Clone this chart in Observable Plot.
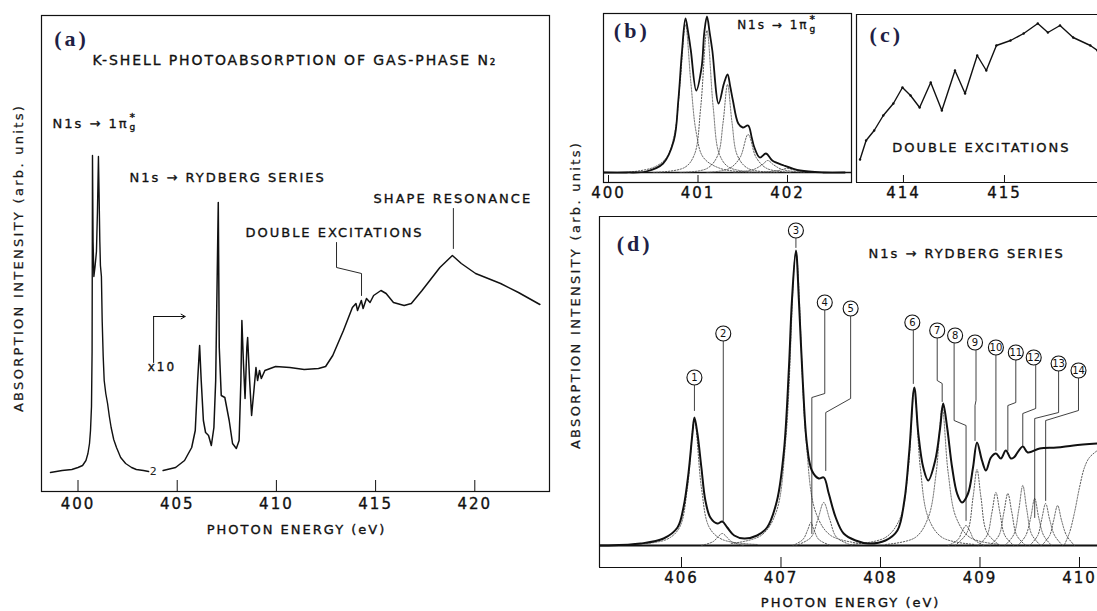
<!DOCTYPE html>
<html><head><meta charset="utf-8">
<script src="https://cdn.jsdelivr.net/npm/d3@7"></script>
<script src="https://cdn.jsdelivr.net/npm/@observablehq/plot@0.6"></script>
<style>
html,body{margin:0;padding:0;background:#fff;overflow:hidden;}
#fig{position:relative;width:1097px;height:611px;overflow:hidden;background:#fff;}
.panel{position:absolute;left:0;top:0;}
.panel svg{max-width:none !important;}
.ylab{position:absolute;font-family:"DejaVu Sans";font-size:13px;letter-spacing:2.3px;white-space:nowrap;transform:translate(-50%,-50%) rotate(-90deg);color:#1a1a1a;-webkit-text-stroke:0.25px #1a1a1a;}
#fig svg text{letter-spacing:2px;}
#fig g[font-family*="Serif"] text{letter-spacing:3px;}
#fig g[font-size^="14"] text{letter-spacing:1.9px;}
#fig g[font-size^="15"] text{letter-spacing:2px;}
#fig g[font-size^="10"] text{letter-spacing:0;}
#fig g[font-size^="9"] text{letter-spacing:0;}
</style></head><body><div id="fig"></div>
<script>
// ---------------- DATA (energy eV, intensity arb. units) ----------------
// Panel (a): overview spectrum
const aTicks = [400, 405, 410, 415, 420];
const aPiStar = [[398.61,19],[399.2,21],[399.69,22],[400.0,24],[400.23,26],[400.4,31],[400.50,38],[400.58,48],[400.63,61],[400.68,85],[400.71,140],[400.73,336],[400.76,250],[400.80,215],[400.86,225],[400.93,240],[400.98,280],[401.03,335],[401.06,300],[401.10,250],[401.13,226],[401.18,215],[401.22,170],[401.27,135],[401.32,111],[401.40,98],[401.49,88],[401.58,75],[401.67,64],[401.80,52],[401.94,44],[402.15,34],[402.40,28],[402.70,24],[402.94,22],[403.3,21],[403.56,20]];
const aRydbergX10 = [[404.29,21],[404.92,24],[405.37,31],[405.73,44],[405.91,61],[406.03,111],[406.13,146],[406.21,111],[406.32,71],[406.43,59],[406.58,56],[406.72,46],[406.85,64],[406.94,111],[407.07,289],[407.12,144],[407.22,96],[407.40,94],[407.62,71],[407.79,48],[407.98,43],[408.12,51],[408.21,111],[408.26,171],[408.34,128],[408.42,93],[408.51,144],[408.55,154],[408.65,111],[408.75,76],[408.88,104],[408.97,124],[409.05,111],[409.15,121],[409.24,113],[409.42,121],[409.96,125],[410.68,124],[411.40,122],[412.12,123],[412.48,125],[412.84,136],[413.38,161],[413.83,184],[414.01,188],[414.09,181],[414.28,191],[414.37,183],[414.54,193],[414.72,189],[414.90,196],[415.27,201],[415.53,198],[415.90,189],[416.44,186],[416.80,188],[417.34,201],[418.24,224],[418.87,236],[419.32,228],[420.04,218],[421.30,208],[422.20,199],[423.28,187]];

// Panel (b): N1s -> 1pi_g* vibrational structure
const bTicks = [400, 401, 402];
const bTotal = [[399.95,10],[400.2,10],[400.42,11],[400.61,19],[400.73,42],[400.78,82],[400.82,130],[400.86,164],[400.89,150],[400.92,132],[400.98,92],[401.04,115],[401.07,150],[401.10,166],[401.13,150],[401.16,132],[401.23,79],[401.29,99],[401.33,108],[401.36,96],[401.39,82],[401.45,59],[401.50,55],[401.56,57],[401.60,45],[401.63,35],[401.69,25],[401.76,29],[401.83,22],[401.96,17],[402.14,12],[402.4,10],[402.64,10]];
const bComp1 = [[400.2,10],[400.5,15],[400.65,25],[400.74,50],[400.80,100],[400.86,158],[400.92,100],[400.98,50],[401.06,25],[401.25,14],[401.6,10]];
const bComp2 = [[400.5,10],[400.85,15],[400.96,28],[401.03,75],[401.10,152],[401.17,75],[401.24,28],[401.35,15],[401.7,10]];
const bComp3 = [[400.8,10],[401.1,14],[401.22,27],[401.28,60],[401.33,98],[401.38,60],[401.44,27],[401.56,14],[401.9,10]];
const bComp4 = [[401.1,10],[401.35,14],[401.47,25],[401.56,48],[401.65,25],[401.77,14],[402.05,10]];
const bComp5 = [[401.4,10],[401.62,13],[401.72,18],[401.78,22],[401.84,18],[401.94,13],[402.2,10]];
const bComp6 = [[401.7,10],[401.9,12],[402.0,14],[402.1,12],[402.3,10]];

// Panel (c): double excitations
const cTicks = [414, 415];
const cTotal = [[413.57,23],[413.63,42],[413.71,52],[413.80,67],[413.90,79],[413.99,95],[414.07,87],[414.16,75],[414.27,100],[414.38,72],[414.51,112],[414.61,89],[414.73,127],[414.82,112],[414.92,137],[415.06,142],[415.19,149],[415.33,159],[415.43,150],[415.55,157],[415.68,145],[415.85,137],[415.92,132]];

// Panel (d): Rydberg series
const dTicks = [406, 407, 408, 409, 410];
const dTotal = [[405.18,22],[405.25,22],[405.59,24],[405.82,29],[405.96,40],[406.02,60],[406.07,94],[406.11,134],[406.13,150],[406.16,134],[406.20,100],[406.24,67],[406.29,50],[406.36,44],[406.41,46],[406.46,40],[406.53,32],[406.63,29],[406.76,32],[406.86,40],[406.96,67],[407.03,117],[407.08,200],[407.11,267],[407.15,317],[407.18,267],[407.22,184],[407.26,124],[407.31,97],[407.38,89],[407.43,90],[407.48,74],[407.55,50],[407.63,34],[407.75,27],[407.88,24],[408.05,27],[408.17,37],[408.24,67],[408.29,117],[408.34,180],[408.38,134],[408.43,100],[408.48,87],[408.55,107],[408.60,140],[408.63,164],[408.67,140],[408.72,100],[408.77,74],[408.82,65],[408.88,74],[408.93,100],[408.97,125],[409.02,107],[409.06,97],[409.11,110],[409.16,114],[409.21,109],[409.26,117],[409.31,109],[409.34,110],[409.43,121],[409.48,115],[409.60,119],[409.77,120],[409.94,122],[410.18,124]];
const dComp1 = [[405.5,23],[405.85,28],[405.98,40],[406.06,80],[406.13,148],[406.20,80],[406.28,40],[406.41,28],[406.76,23]];
const dComp2 = [[406.2,22],[406.32,26],[406.37,31],[406.41,34],[406.45,31],[406.5,26],[406.62,22]];
const dComp3 = [[406.5,24],[406.8,32],[406.95,55],[407.05,130],[407.15,315],[407.25,130],[407.35,55],[407.5,32],[407.8,24]];
const dComp4 = [[407.12,22],[407.22,28],[407.27,38],[407.30,45],[407.33,38],[407.38,28],[407.5,22]];
const dComp5 = [[407.15,22],[407.3,30],[407.37,48],[407.43,65],[407.49,48],[407.56,30],[407.72,22]];
const dComp6 = [[407.7,23],[408.05,30],[408.2,50],[408.28,100],[408.34,178],[408.40,100],[408.48,50],[408.62,30],[408.95,23]];
const dComp7 = [[408.05,23],[408.35,30],[408.48,50],[408.56,95],[408.62,160],[408.68,95],[408.76,50],[408.9,30],[409.2,23]];
const dComp8 = [[408.68,22],[408.78,28],[408.82,36],[408.86,42],[408.90,36],[408.94,28],[409.04,22]];
const dComp9 = [[408.75,22],[408.87,35],[408.93,70],[408.97,98],[409.01,70],[409.07,35],[409.2,22]];
const dComp10 = [[408.98,22],[409.07,32],[409.12,55],[409.16,75],[409.2,55],[409.25,32],[409.34,22]];
const dComp11 = [[409.1,22],[409.19,32],[409.24,55],[409.28,74],[409.32,55],[409.37,32],[409.46,22]];
const dComp12 = [[409.25,22],[409.34,33],[409.39,58],[409.43,82],[409.47,58],[409.52,33],[409.61,22]];
const dComp13 = [[409.38,22],[409.46,32],[409.51,50],[409.55,69],[409.59,50],[409.64,32],[409.72,22]];
const dComp14 = [[409.5,22],[409.58,32],[409.62,48],[409.66,64],[409.70,48],[409.75,32],[409.83,22]];
const dComp15 = [[409.62,22],[409.7,32],[409.74,47],[409.78,62],[409.82,47],[409.87,32],[409.95,22]];
const dStep = [[409.85,23],[409.90,35],[409.95,55],[410.0,80],[410.05,100],[410.10,110],[410.18,117]];
const dPeakNumbers = [1,2,3,4,5,6,7,8,9,10,11,12,13,14];

// ---------------- annotation geometry ----------------
const dCircles = [[406.13,190],[406.42,234],[407.15,337],[407.44,265],[407.70,259],[408.32,245],[408.57,237],[408.75,232],[408.95,225],[409.16,220],[409.36,215],[409.54,210],[409.79,204],[409.99,197]];
const dLeaders = [
  [[406.13,182],[406.13,157]],
  [[406.42,226],[406.42,47]],
  [[407.15,329],[407.15,320]],
  [[407.44,257],[407.44,174],[407.31,170],[407.31,34]],
  [[407.70,251],[407.70,169],[407.45,155],[407.45,97]],
  [[408.33,237],[408.33,184]],
  [[408.57,229],[408.57,187],[408.62,184],[408.62,166]],
  [[408.74,224],[408.74,147],[408.86,142],[408.86,47]],
  [[408.96,217],[408.96,167],[408.95,162],[408.95,127]],
  [[409.16,212],[409.16,117]],
  [[409.36,207],[409.36,165],[409.28,162],[409.28,117]],
  [[409.56,202],[409.56,159],[409.43,154],[409.43,122]],
  [[409.79,196],[409.79,155],[409.55,149],[409.55,50]],
  [[409.99,189],[409.99,157],[409.66,147],[409.66,67]]
];

// ---------------- helpers ----------------
const ink = "#111";
const heavy = {stroke: ink, strokeWidth: 0.35};
const series = list => list.flatMap((arr, k) => arr.map(([x, y]) => ({x, y, k})));
const label = (x, y, t, o = {}) => Plot.text([{x, y, t}], {x: "x", y: "y", text: "t", fill: ink, ...heavy, ...o});
const serif = {fontFamily: "Liberation Serif", fontWeight: "bold", fontSize: 22, fill: "#1f1f45", stroke: "none"};
const curve = (arr, o = {}) => Plot.line(arr, {x: d => d[0], y: d => d[1], stroke: ink, clip: true, ...o});
const dotted = (list, o = {}) => Plot.line(series(list), {x: "x", y: "y", z: "k", stroke: "#4a4a4a", strokeWidth: 0.9, strokeDasharray: "1.4,1.6", curve: "catmull-rom", clip: true, ...o});
const ticksIn = (t, len) => Plot.ruleX(t, {x: d => d, y1: 0, y2: len, stroke: ink, strokeWidth: 1});
const tickLabels = (t, dy) => Plot.text(t, {x: d => d, y: 0, dy, text: d => String(d), fontSize: 15, fill: ink, ...heavy});
const piLabel = (x, y, fs) => [
  label(x, y, "N1s → 1π", {textAnchor: "end", fontSize: fs}),
  label(x, y, "g", {textAnchor: "start", dx: 1, dy: 4, fontSize: 9}),
  label(x, y, "*", {textAnchor: "start", dx: 1, dy: -6, fontSize: 11})
];

function panel(width, mL, mR, mT, mB, xd, yd, marks) {
  return Plot.plot({
    width, height: 611, marginLeft: mL, marginRight: mR, marginTop: mT, marginBottom: mB,
    x: {domain: xd, axis: null}, y: {domain: yd, axis: null},
    style: {background: "transparent", fontFamily: "DejaVu Sans", fontSize: "13px", color: ink, maxWidth: "none", overflow: "visible"},
    marks
  });
}

// ---------------- panel (a) ----------------
const pa = panel(560, 41, 11, 15, 120, [398.16, 423.765], [0, 476], [
  Plot.frame({stroke: ink, strokeWidth: 1.2}),
  ticksIn(aTicks, 11),
  tickLabels(aTicks, 13),
  curve(aPiStar, {strokeWidth: 1.4}),
  curve(aRydbergX10, {strokeWidth: 1.5}),
  label(403.84, 20, "2", {fontSize: 11, stroke: "none", fill: "#222"}),
  label(399.67, 453, "(a)", serif),
  label(400.73, 431, "K-SHELL PHOTOABSORPTION OF GAS-PHASE N₂", {textAnchor: "start", fontSize: 14}),
  ...piLabel(402.55, 368, 13),
  label(402.60, 314, "N1s → RYDBERG SERIES", {textAnchor: "start"}),
  label(414.90, 293, "SHAPE RESONANCE", {textAnchor: "start"}),
  label(408.44, 259, "DOUBLE EXCITATIONS", {textAnchor: "start"}),
  Plot.line([[418.92, 283], [418.92, 243]], {x: d => d[0], y: d => d[1], stroke: ink, strokeWidth: 0.9}),
  Plot.line([[413.03, 249], [413.03, 224], [414.29, 218], [414.29, 196]], {x: d => d[0], y: d => d[1], stroke: ink, strokeWidth: 0.9}),
  Plot.line([[403.81, 129], [403.81, 175]], {x: d => d[0], y: d => d[1], stroke: ink, strokeWidth: 1}),
  Plot.arrow([{}], {x1: 403.81, y1: 175, x2: 405.4, y2: 175, stroke: ink, strokeWidth: 1, headLength: 7}),
  label(404.23, 124, "x10", {fontSize: 12}),
  label(411.01, -38, "PHOTON ENERGY (eV)")
]);

// ---------------- panel (b) ----------------
const pb = panel(860, 603, 9, 13, 429, [399.944, 402.715], [0, 169], [
  Plot.frame({stroke: ink, strokeWidth: 1.2}),
  ticksIn(bTicks, 7),
  tickLabels(bTicks, 11),
  Plot.ruleY([10], {stroke: ink, strokeWidth: 1.6}),
  dotted([bComp1, bComp2, bComp3, bComp4, bComp5, bComp6]),
  curve(bTotal, {strokeWidth: 1.8, curve: "catmull-rom"}),
  label(400.26, 152, "(b)", serif),
  ...piLabel(402.235, 157, 12)
]);

// ---------------- panel (c) ----------------
const pc = panel(1097, 856, 0, 14, 429, [413.535, 415.921], [0, 168], [
  Plot.ruleY([0, 168], {stroke: ink, strokeWidth: 1.2}),
  Plot.ruleX([413.535], {stroke: ink, strokeWidth: 1.2}),
  ticksIn(cTicks, 7),
  tickLabels(cTicks, 11),
  curve(cTotal, {strokeWidth: 1.4}),
  Plot.dot(cTotal, {x: d => d[0], y: d => d[1], r: 1.2, fill: ink, clip: true}),
  label(413.83, 148, "(c)", serif),
  label(413.89, 35, "DOUBLE EXCITATIONS", {textAnchor: "start"})
]);

// ---------------- panel (d) ----------------
const pd = panel(1097, 599, 0, 216, 44, [405.176, 410.181], [0, 351], [
  Plot.ruleY([0, 351], {stroke: ink, strokeWidth: 1.2}),
  Plot.ruleX([405.176], {stroke: ink, strokeWidth: 1.2}),
  ticksIn(dTicks, 10),
  tickLabels(dTicks, 11),
  Plot.ruleY([22], {stroke: ink, strokeWidth: 1.8}),
  dotted([dComp1, dComp2, dComp3, dComp4, dComp5, dComp6, dComp7, dComp8, dComp9, dComp10, dComp11, dComp12, dComp13, dComp14, dComp15, dStep]),
  curve(dTotal, {strokeWidth: 2, curve: "catmull-rom"}),
  Plot.line(series(dLeaders), {x: "x", y: "y", z: "k", stroke: ink, strokeWidth: 0.8}),
  Plot.dot(dCircles, {x: d => d[0], y: d => d[1], r: 7.5, fill: "white", stroke: ink, strokeWidth: 1.1}),
  Plot.text(dCircles, {x: d => d[0], y: d => d[1], text: (d, i) => String(dPeakNumbers[i]), fontSize: 10, fill: ink}),
  label(405.53, 324, "(d)", serif),
  label(407.88, 314, "N1s → RYDBERG SERIES", {textAnchor: "start"}),
  label(407.70, -35, "PHOTON ENERGY (eV)")
]);

const fig = document.getElementById("fig");
for (const p of [pa, pb, pc, pd]) {
  const div = document.createElement("div");
  div.className = "panel";
  div.appendChild(p);
  fig.appendChild(div);
}
const yl1 = document.createElement("div");
yl1.className = "ylab"; yl1.style.left = "18px"; yl1.style.top = "258px";
yl1.textContent = "ABSORPTION INTENSITY (arb. units)";
fig.appendChild(yl1);
const yl2 = document.createElement("div");
yl2.className = "ylab"; yl2.style.left = "575px"; yl2.style.top = "295px";
yl2.textContent = "ABSORPTION INTENSITY (arb. units)";
fig.appendChild(yl2);
</script></body></html>
